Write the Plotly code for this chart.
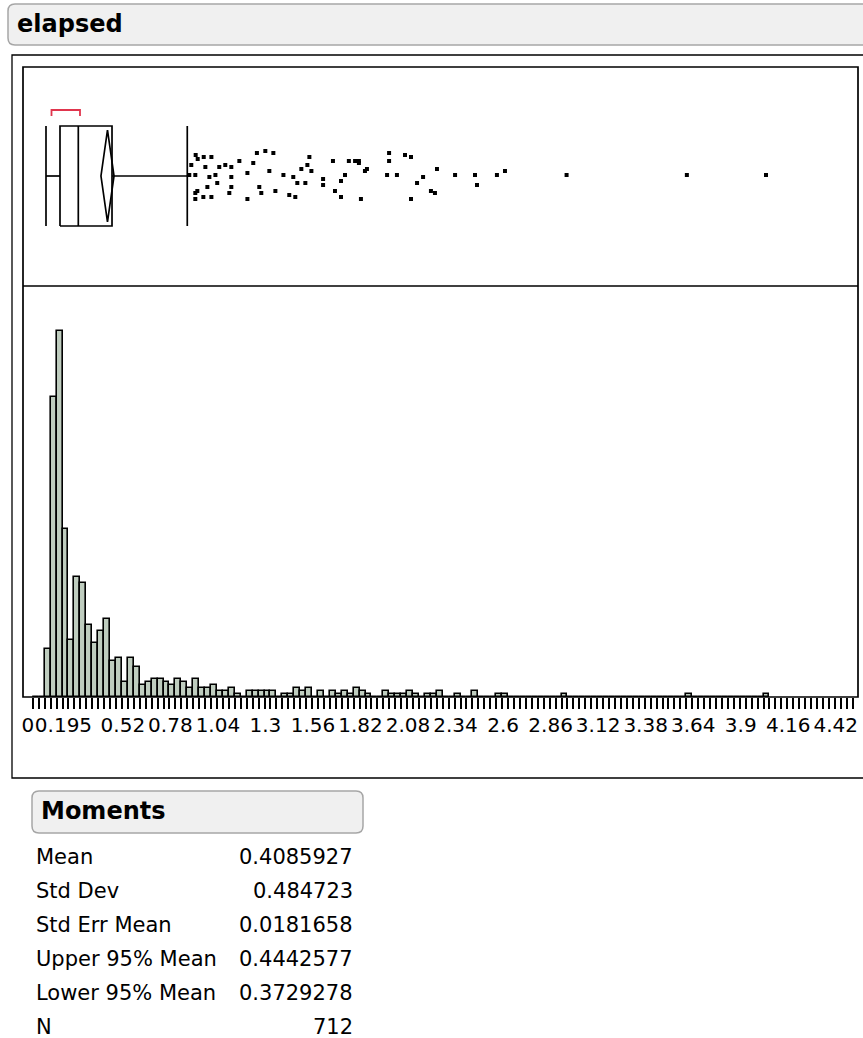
import plotly.graph_objects as go

W, H = 863, 1038

# ---------------- data ----------------
bin_width = 0.0325
# counts per histogram bin, bin k = [k*bin_width, (k+1)*bin_width)
bin_counts = [0, 0, 16, 100, 122, 56, 19, 40, 38, 24, 18, 22, 26, 12, 13, 5, 13, 10,
              4, 5, 6, 6, 5, 4, 6, 5, 3, 6, 3, 3, 4, 2, 2, 3, 1, 0,
              2, 2, 2, 2, 2, 0, 1, 1, 3, 2, 3, 0, 2, 0, 2, 1, 2, 1, 3,
              2, 1, 0, 0, 2, 1, 1, 1, 2, 1, 0, 1, 1, 2, 0, 0, 1, 0, 0, 2,
              0, 0, 0, 1, 1, 0, 0, 0, 0, 0, 0, 0, 0, 0, 1,
              0, 0, 0, 0, 0, 0, 0, 0, 0, 0, 0, 0, 0, 0, 0, 0, 0, 0, 0, 0, 1,
              0, 0, 0, 0, 0, 0, 0, 0, 0, 0, 0, 0, 1]

# outlier box plot summary
box_min = 0.0722
box_q1 = 0.1488
box_median = 0.2489
box_q3 = 0.4333
box_upper = 0.845
mean = 0.4085927
lower95 = 0.3729278
upper95 = 0.4442577
short_half = [0.1023, 0.2582]

# outliers: values and vertical jitter
outlier_values = [0.891, 0.902, 0.935, 0.977, 0.867, 0.944, 1.020, 1.053, 1.086, 1.130,
                  1.206, 1.226, 1.272, 1.316, 1.513, 1.502, 1.469, 1.524, 1.294, 1.174,
                  0.856, 0.889, 0.966, 0.999, 1.086, 1.371, 1.425, 1.447, 1.491, 1.009,
                  0.955, 1.086, 1.239, 0.889, 0.900, 1.075, 1.250, 1.327, 1.403, 1.436,
                  0.889, 0.933, 0.977, 1.174, 1.588, 1.588, 1.642, 1.653, 1.686, 1.686,
                  1.708, 1.729, 1.763, 1.784, 1.784, 1.795, 1.817, 1.828, 1.949, 1.949,
                  1.938, 1.992, 2.036, 2.069, 2.069, 2.102, 2.135, 2.178, 2.200, 2.211,
                  2.310, 2.419, 2.430, 2.539, 2.583, 2.920, 3.578, 4.011]
outlier_jitter = [21, 17, 19, 19, 11, 9, 9, 11, 9, 15,
                  13, 23, 25, 23, 19, 11, 7, 5, 5, 3,
                  1, 1, -1, 1, -1, 1, -1, -7, -7, -7,
                  -11, -11, -11, -17, -15, -17, -17, -15, -19, -21,
                  -23, -21, -21, -23, -3, -9, 15, -15, -5, -21,
                  1, 15, 15, 15, 13, -23, 5, 7, 23, 15,
                  1, 1, 21, 19, -23, -7, -1, -15, -17, 7,
                  1, 1, -9, 1, 5, 1, 1, 1]

tick_labels = [0, 0.195, 0.52, 0.78, 1.04, 1.3, 1.56, 1.82, 2.08, 2.34, 2.6,
               2.86, 3.12, 3.38, 3.64, 3.9, 4.16, 4.42]
n_ticks = 139

moment_names = ["Mean", "Std Dev", "Std Err Mean", "Upper 95% Mean", "Lower 95% Mean", "N"]
moment_values = ["0.4085927", "0.484723", "0.0181658", "0.4442577", "0.3729278", "712"]

# ---------------- helpers (pixel -> paper) ----------------
def px(x):
    return x / W

def py(y):
    return 1 - y / H

FONT = "DejaVu Sans"
GREEN = "#bfcdbf"

fig = go.Figure()

# histogram
centers = [(k + 0.5) * bin_width for k in range(len(bin_counts))]
fig.add_trace(go.Bar(x=centers, y=bin_counts, width=bin_width,
                     marker=dict(color=GREEN, line=dict(color="black", width=1.6)),
                     xaxis="x", yaxis="y", hoverinfo="skip"))

line = dict(color="black", width=1.7)
hb = 50   # half box height (px)
# box
fig.add_trace(go.Scatter(x=[box_q1, box_q3, box_q3, box_q1, box_q1], y=[-hb, -hb, hb, hb, -hb],
                         mode="lines", line=line, xaxis="x", yaxis="y2"))
fig.add_trace(go.Scatter(x=[box_median, box_median], y=[-hb, hb], mode="lines", line=line,
                         xaxis="x", yaxis="y2"))
# whiskers + caps
fig.add_trace(go.Scatter(x=[box_min, box_q1, None, box_q3, box_upper, None, box_min, box_min, None, box_upper, box_upper],
                         y=[0, 0, None, 0, 0, None, -hb, hb, None, -hb, hb],
                         mode="lines", line=line, xaxis="x", yaxis="y2"))
# mean diamond
fig.add_trace(go.Scatter(x=[lower95, mean, upper95, mean, lower95], y=[0, 46, 0, -46, 0],
                         mode="lines", line=line, xaxis="x", yaxis="y2"))
# shortest half bracket
fig.add_trace(go.Scatter(x=[short_half[0], short_half[0], short_half[1], short_half[1]],
                         y=[60, 66, 66, 60], mode="lines",
                         line=dict(color="#e0354d", width=1.8), xaxis="x", yaxis="y2"))
# outliers
fig.add_trace(go.Scatter(x=outlier_values, y=outlier_jitter, mode="markers",
                         marker=dict(symbol="square", size=4, color="black",
                                     line=dict(width=0)),
                         xaxis="x", yaxis="y2"))

# axes: 0 at x=32.8px, 182.8 px per unit
x0px, scale = 32.8, 182.8
xr = [(23 - x0px) / scale, (858 - x0px) / scale]
tickvals = [k * bin_width for k in range(n_ticks)]
ticktext = []
for v in tickvals:
    lab = ""
    for t in tick_labels:
        if abs(v - t) < 1e-6:
            lab = f"{t:g}"
    ticktext.append(lab)

fig.update_layout(
    template="none",
    width=W, height=H, margin=dict(l=0, r=0, t=0, b=0, pad=0, autoexpand=False),
    paper_bgcolor="white", plot_bgcolor="white", showlegend=False,
    bargap=0,
    xaxis=dict(domain=[px(23), px(858)], range=xr, anchor="y", automargin=False,
               tickmode="array", tickvals=tickvals, ticktext=ticktext,
               ticks="outside", ticklen=11, tickwidth=1.6, tickcolor="black",
               tickangle=0, ticklabelshift=-5, ticklabelstandoff=-1,
               tickfont=dict(family=FONT, size=20, color="black"),
               showgrid=False, zeroline=False, showline=False),
    yaxis=dict(domain=[py(697), py(286)], range=[0, (697 - 286) / 3.0], automargin=False,
               visible=False, showgrid=False, zeroline=False),
    yaxis2=dict(domain=[py(286), py(67)], range=[176 - 286, 176 - 67], anchor="x",
                automargin=False, visible=False, showgrid=False, zeroline=False),
)

def rounded(x1, y1, x2, y2, r):
    return (f"M {px(x1 + r)} {py(y1)} L {px(x2 - r)} {py(y1)} Q {px(x2)} {py(y1)} {px(x2)} {py(y1 + r)} "
            f"L {px(x2)} {py(y2 - r)} Q {px(x2)} {py(y2)} {px(x2 - r)} {py(y2)} "
            f"L {px(x1 + r)} {py(y2)} Q {px(x1)} {py(y2)} {px(x1)} {py(y2 - r)} "
            f"L {px(x1)} {py(y1 + r)} Q {px(x1)} {py(y1)} {px(x1 + r)} {py(y1)} Z")

shapes = [
    dict(type="path", path=rounded(8, 4, 880, 45, 7), xref="paper", yref="paper",
         fillcolor="#f0f0f0", line=dict(color="#a6a6a6", width=1.5), layer="below"),
    dict(type="path", path=rounded(32, 791, 363, 833, 7), xref="paper", yref="paper",
         fillcolor="#f0f0f0", line=dict(color="#a6a6a6", width=1.5), layer="below"),
    dict(type="rect", x0=px(12), x1=px(880), y0=py(55), y1=py(778), xref="paper", yref="paper",
         line=dict(color="black", width=1.3), fillcolor="rgba(0,0,0,0)"),
    dict(type="rect", x0=px(23), x1=px(858), y0=py(67), y1=py(697), xref="paper", yref="paper",
         line=dict(color="black", width=1.7), fillcolor="rgba(0,0,0,0)"),
    dict(type="line", x0=px(23), x1=px(858), y0=py(286), y1=py(286), xref="paper", yref="paper",
         line=dict(color="black", width=1.7)),
]
fig.update_layout(shapes=shapes)

ann = [
    dict(text="elapsed", x=px(15), y=py(24), xanchor="left", yanchor="middle",
         font=dict(family=FONT, size=24, color="black", weight="bold")),
    dict(text="Moments", x=px(39), y=py(811), xanchor="left", yanchor="middle",
         font=dict(family=FONT, size=24, color="black", weight="bold")),
]
row_y = [857, 891, 925, 959, 993, 1027]
for name, val, yy in zip(moment_names, moment_values, row_y):
    ann.append(dict(text=name, x=px(34), y=py(yy), xanchor="left", yanchor="middle",
                    font=dict(family=FONT, size=21, color="black")))
    ann.append(dict(text=val, x=px(355), y=py(yy), xanchor="right", yanchor="middle",
                    font=dict(family=FONT, size=21, color="black")))
for a in ann:
    a.update(xref="paper", yref="paper", showarrow=False)
fig.update_layout(annotations=ann)

fig.write_html("out.html", config={"displayModeBar": False},
               post_script="document.body.style.margin='0';document.body.style.overflow='hidden';")
